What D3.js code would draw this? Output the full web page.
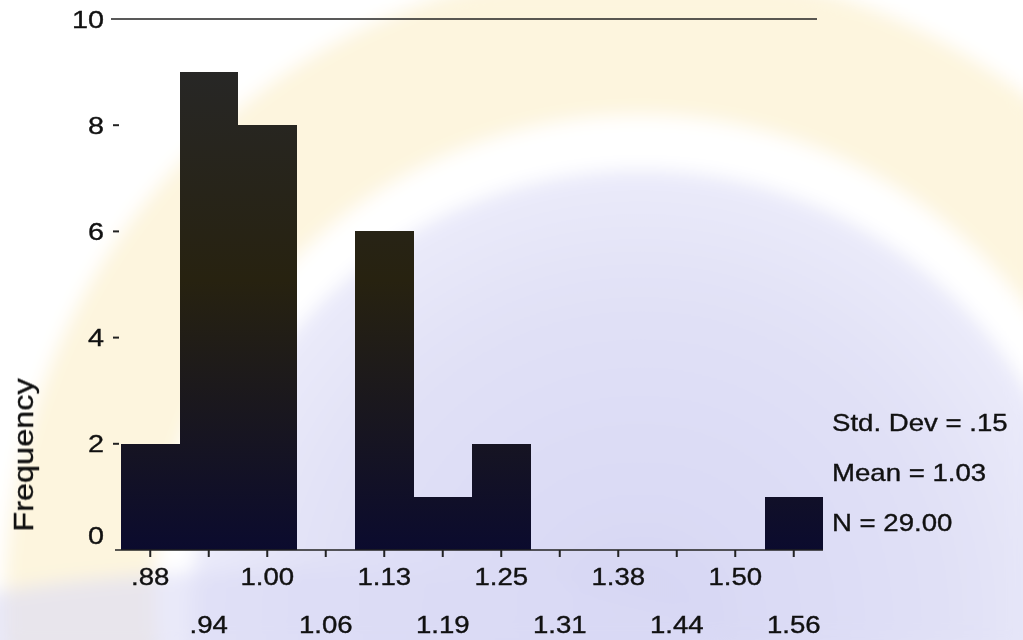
<!DOCTYPE html>
<html>
<head>
<meta charset="utf-8">
<script src="https://cdn.jsdelivr.net/npm/d3@7"></script>
<style>
  html, body { margin: 0; padding: 0; background: #ffffff; }
  svg { display: block; }
  text { font-family: "Liberation Sans", Arial, Helvetica, sans-serif; fill: #111; stroke: #111; stroke-width: 0.35; }
</style>
</head>
<body>
<div id="chart"></div>
<script>
// Histogram bins (midpoints) and counts
const binLabels = [".88", ".94", "1.00", "1.06", "1.13", "1.19", "1.25", "1.31", "1.38", "1.44", "1.50", "1.56"];
const counts    = [2, 9, 8, 0, 6, 1, 2, 0, 0, 0, 0, 1];
const yTicks    = [0, 2, 4, 6, 8, 10];
const statLines = ["Std. Dev = .15", "Mean = 1.03", "N = 29.00"];
const yTitle    = "Frequency";

const W = 1023, H = 640;
const svg = d3.select("#chart").append("svg").attr("width", W).attr("height", H);
const defs = svg.append("defs");

// soft background emblem
const blur = defs.append("filter").attr("id", "soft").attr("x", "-20%").attr("y", "-20%").attr("width", "140%").attr("height", "140%");
blur.append("feGaussianBlur").attr("stdDeviation", 9);
const rg = defs.append("radialGradient").attr("id", "bluefade");
rg.append("stop").attr("offset", "0%").attr("stop-color", "#c8c8ef");
rg.append("stop").attr("offset", "75%").attr("stop-color", "#d8d8f4");
rg.append("stop").attr("offset", "100%").attr("stop-color", "#e4e4f8");

const bg = svg.append("g").attr("filter", "url(#soft)");
bg.append("rect").attr("width", W).attr("height", H).attr("fill", "#ffffff");
bg.append("circle").attr("cx", 640).attr("cy", 600).attr("r", 560)
  .attr("fill", "none").attr("stroke", "#fcecc2").attr("stroke-width", 150).attr("opacity", 0.55);
bg.append("circle").attr("cx", 640).attr("cy", 620).attr("r", 450)
  .attr("fill", "url(#bluefade)").attr("opacity", 0.75);
bg.append("ellipse").attr("cx", 300).attr("cy", 640).attr("rx", 420).attr("ry", 70)
  .attr("fill", "#dadaf5").attr("opacity", 0.6);

// bar shading
const lg = defs.append("linearGradient").attr("id", "barfill")
  .attr("gradientUnits", "userSpaceOnUse").attr("x1", 0).attr("y1", 60).attr("x2", 0).attr("y2", 550);
lg.append("stop").attr("offset", "0%").attr("stop-color", "#272727");
lg.append("stop").attr("offset", "45%").attr("stop-color", "#272210");
lg.append("stop").attr("offset", "100%").attr("stop-color", "#0b0b2e");

const x = d3.scaleBand().domain(binLabels).range([121, 823]).paddingInner(0).paddingOuter(0);
const y = d3.scaleLinear().domain([0, 10]).range([550, 19]);
const SX = 1.2; // wide lettering

// bars
svg.append("g").attr("shape-rendering", "crispEdges").selectAll("rect.bar")
  .data(binLabels.map((b, i) => ({ b, c: counts[i] })).filter(d => d.c > 0))
  .join("rect")
  .attr("class", "bar")
  .attr("x", d => x(d.b))
  .attr("y", d => y(d.c))
  .attr("width", x.bandwidth())
  .attr("height", d => y(0) - y(d.c))
  .attr("fill", "url(#barfill)");

// top frame line
svg.append("line").attr("x1", 111).attr("x2", 817).attr("y1", y(10)).attr("y2", y(10))
  .attr("stroke", "#222").attr("stroke-width", 1.6);
// baseline
svg.append("line").attr("x1", 115).attr("x2", 823).attr("y1", y(0)).attr("y2", y(0))
  .attr("stroke", "#222").attr("stroke-width", 1.6);

// x ticks and staggered labels
const xg = svg.append("g");
xg.selectAll("line.xt").data(binLabels).join("line")
  .attr("x1", d => x(d) + x.bandwidth() / 2).attr("x2", d => x(d) + x.bandwidth() / 2)
  .attr("y1", y(0)).attr("y2", y(0) + 7)
  .attr("stroke", "#222").attr("stroke-width", 2);
xg.selectAll("text.xl").data(binLabels).join("text")
  .attr("text-anchor", "middle")
  .attr("font-size", 23)
  .attr("transform", (d, i) => `translate(${x(d) + x.bandwidth() / 2},${i % 2 === 0 ? 585 : 633}) scale(${SX},1)`)
  .text(d => d);

// y ticks and labels
const yg = svg.append("g");
yg.selectAll("line.yt").data(yTicks.filter(t => t > 0 && t < 10)).join("line")
  .attr("x1", 113).attr("x2", 119)
  .attr("y1", d => y(d)).attr("y2", d => y(d))
  .attr("stroke", "#222").attr("stroke-width", 2);
yg.selectAll("text.yl").data(yTicks).join("text")
  .attr("text-anchor", "end")
  .attr("font-size", 24)
  .attr("transform", d => `translate(104,${y(d) + (d === 0 ? -15 : 0) + 8.5}) scale(${SX},1)`)
  .text(d => d);

// axis title
svg.append("text")
  .attr("text-anchor", "middle")
  .attr("font-size", 28)
  .attr("transform", `translate(33,455) rotate(-90) scale(1.16,1)`)
  .text(yTitle);

// summary statistics
svg.append("g").selectAll("text.st").data(statLines).join("text")
  .attr("font-size", 23)
  .attr("transform", (d, i) => `translate(832,${431 + i * 50}) scale(${SX},1)`)
  .text(d => d);
</script>
</body>
</html>
